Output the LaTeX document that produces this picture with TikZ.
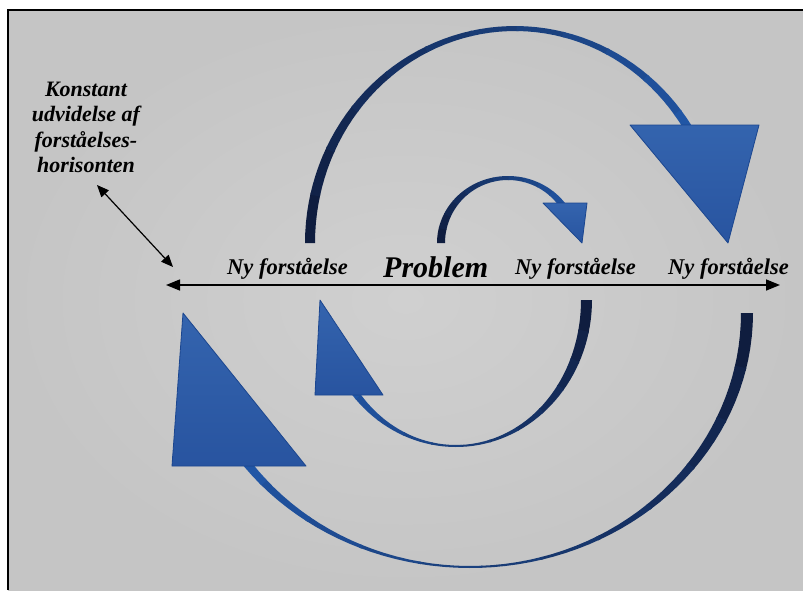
\documentclass[tikz,border=0pt]{standalone}
\usepackage{fontspec}
\setmainfont{Liberation Serif}
\usetikzlibrary{arrows.meta}
\definecolor{navyc}{HTML}{0F1D3F}
\definecolor{bluec}{HTML}{2156A5}
\definecolor{tritop}{HTML}{3464AE}
\definecolor{tribot}{HTML}{2854A0}
\definecolor{triedge}{HTML}{1B468F}
\definecolor{bgin}{HTML}{D0D0D0}
\definecolor{bgout}{HTML}{C5C5C5}
% ribbon: cx cy rx ry t0 t1 wa wb  (width = wa + wb*cos^2)
\newcommand{\ribbon}[8]{%
  \foreach \i in {0,...,11}{%
    \pgfmathsetmacro{\ta}{#5+(#6-#5)*\i/12}%
    \pgfmathsetmacro{\tb}{#5+(#6-#5)*(\i+1)/12+0.6}%
    \pgfmathtruncatemacro{\pc}{100*\i/11}%
    \fill[bluec!\pc!navyc]
      plot[domain=\ta:\tb,samples=6,variable=\t] ({#1+#3*cos(\t)},{#2+#4*sin(\t)})
      -- plot[domain=\tb:\ta,samples=6,variable=\t] ({#1+(#3-#7-#8*cos(\t)^2)*cos(\t)},{#2+(#4-#7-#8*cos(\t)^2)*sin(\t)})
      -- cycle;
  }}
\tikzset{
  lbl/.style={font=\fontsize{22.5}{25}\selectfont\bfseries\itshape, inner sep=0pt},
  problbl/.style={font=\fontsize{30}{34}\selectfont\bfseries\itshape, inner sep=0pt},
  note/.style={font=\fontsize{22}{25.3}\selectfont\bfseries\itshape, inner sep=0pt, align=center},
  tri/.style={top color=tritop, bottom color=tribot, draw=triedge, line width=0.8pt, line join=round},
  axisarrow/.style={line width=1.5pt, {Triangle[length=14pt,width=11pt]}-{Triangle[length=14pt,width=11pt]}},
  notearrow/.style={line width=1.2pt, {Triangle[length=12pt,width=10pt]}-{Triangle[length=12pt,width=10pt]}}
}
\begin{document}
\begin{tikzpicture}[x=1pt,y=-1pt]
\useasboundingbox (0,0) rectangle (803,590);
\fill[white] (0,0) rectangle (803,590);
\shade[inner color=bgin, outer color=bgout] (8,10) rectangle (803,590);
\draw[line width=2pt] (8,590) -- (8,10) -- (803,10);

% ribbons
\ribbon{515}{243}{210}{217}{180}{335}{5}{5}
\ribbon{508}{243}{71}{67}{180}{335}{4}{4}
\ribbon{456}{300}{136}{147}{0}{150}{2}{9}
\ribbon{470}{313}{283}{255}{0}{150}{2}{10}

% arrow heads
\path[tri] (630,125) -- (759,125) -- (728,243) -- cycle;
\path[tri] (543,203) -- (587,203) -- (582,243) -- cycle;
\path[tri] (320,300) -- (383,395) -- (315,395) -- cycle;
\path[tri] (183,313) -- (306,466) -- (172,466) -- cycle;

% axis
\coordinate (axL) at (166,285);
\coordinate (axR) at (780,285);
\draw[axisarrow] (axL) -- (axR);

% labels
\node[lbl, anchor=base west] (ny1) at (227,274) {Ny forståelse};
\node[problbl, anchor=base west] (prob) at (383,277) {Problem};
\node[lbl, anchor=base west] (ny2) at (515,274) {Ny forståelse};
\node[lbl, anchor=base west] (ny3) at (668,274) {Ny forståelse};

\node[note, anchor=north] (konst) at (86,82) {Konstant\\udvidelse af\\forståelses-\\horisonten};
\coordinate (nA) at (97,185);
\coordinate (nB) at (173,267);
\draw[notearrow] (nA) -- (nB);
\end{tikzpicture}
\end{document}
